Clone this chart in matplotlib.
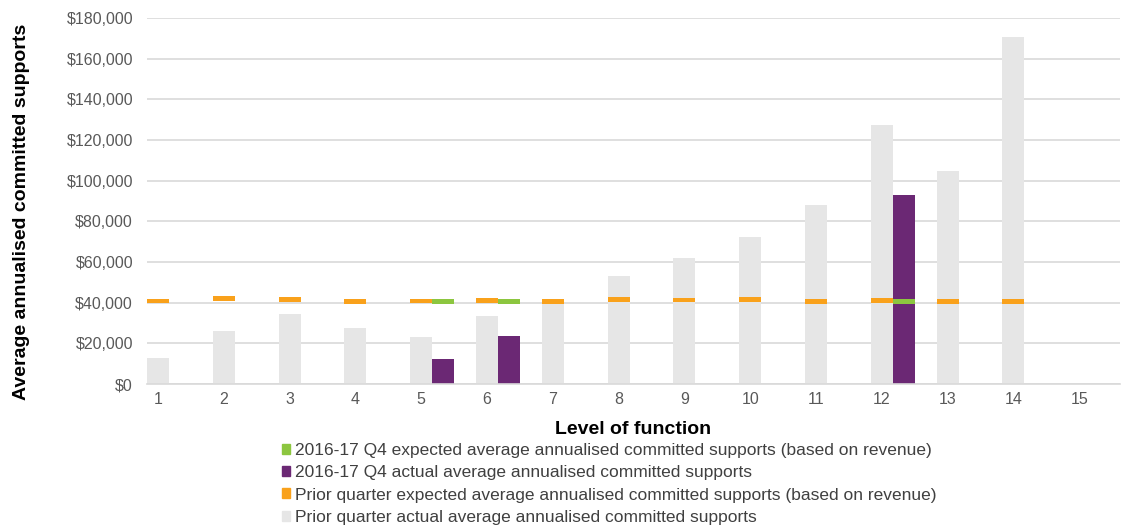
import numpy as np
import matplotlib.pyplot as plt
from matplotlib.patches import Patch

levels = list(range(1, 16))
prior_actual = [12600, 25900, 34400, 27500, 23100, 33600, 41000, 53100, 62000,
                72300, 88000, 127400, 104800, 170600, np.nan]
prior_expected = [40800, 42100, 41600, 40700, 40800, 41100, 40700, 41600, 41300,
                  41600, 40700, 41100, 40700, 40700, np.nan]
q4_actual = [np.nan, np.nan, np.nan, np.nan, 12300, 23600, np.nan, np.nan, np.nan,
             np.nan, np.nan, 92900, np.nan, np.nan, np.nan]
q4_expected = [np.nan, np.nan, np.nan, np.nan, 40700, 40700, np.nan, np.nan, np.nan,
               np.nan, np.nan, 40700, np.nan, np.nan, np.nan]

labels = [
    "2016-17 Q4 expected average annualised committed supports (based on revenue)",
    "2016-17 Q4 actual average annualised committed supports",
    "Prior quarter expected average annualised committed supports (based on revenue)",
    "Prior quarter actual average annualised committed supports",
]

GREY = "#e6e6e6"
PURPLE = "#6b2874"
ORANGE = "#f9a11b"
GREEN = "#8cc63f"

plt.rcParams["font.family"] = ["Liberation Sans", "DejaVu Sans"]

fig = plt.figure(figsize=(11.23, 5.28), dpi=100)
ax = fig.add_axes([0.1309, 0.2727, 0.9973 - 0.1309, 0.9659 - 0.2727])

x = np.array(levels, dtype=float)
w = 0.335
thick = 2400

ax.bar(x, prior_actual, width=w, color=GREY, zorder=2)
ax.bar(x + w, q4_actual, width=w, color=PURPLE, zorder=2)
ax.bar(x, thick, bottom=np.array(prior_expected) - thick / 2, width=w,
       color=ORANGE, zorder=3)
ax.bar(x + w, thick, bottom=np.array(q4_expected) - thick / 2, width=w,
       color=GREEN, zorder=3)

ax.set_xlim(1 - w / 2, 1 + (1120 - 158) / 65.8)
ax.set_ylim(0, 180000)
ax.set_yticks(np.arange(0, 180001, 20000))
ax.yaxis.set_major_formatter(plt.FuncFormatter(lambda v, p: "${:,.0f}".format(v)))
ax.set_xticks(x)
ax.set_xticklabels([str(l) for l in levels])

ax.grid(axis="y", color="#d9d9d9", linewidth=1.2, zorder=0)
ax.set_axisbelow(True)
for s in ["top", "right", "left"]:
    ax.spines[s].set_visible(False)
ax.spines["bottom"].set_color("#d9d9d9")
ax.spines["bottom"].set_linewidth(1.2)
ax.tick_params(axis="both", length=0, labelsize=11.5, colors="#595959")
ax.tick_params(axis="y", pad=10)
ax.tick_params(axis="x", pad=6)

ax.set_xlabel("Level of function", fontsize=14, fontweight="bold", labelpad=10)
ax.set_ylabel("Average annualised committed supports", fontsize=14,
              fontweight="bold", labelpad=30)
ax.yaxis.set_label_coords(-0.12, 0.47)

handles = [Patch(color=GREEN), Patch(color=PURPLE), Patch(color=ORANGE), Patch(color=GREY)]
fig.legend(handles, labels, loc="upper left", bbox_to_anchor=(0.251, 0.161),
           frameon=False, fontsize=12.5, handlelength=0.45, handleheight=0.5,
           handletextpad=0.3, labelspacing=0.42, borderaxespad=0, borderpad=0,
           labelcolor="#404040")

fig.savefig("out.png", dpi=100)
